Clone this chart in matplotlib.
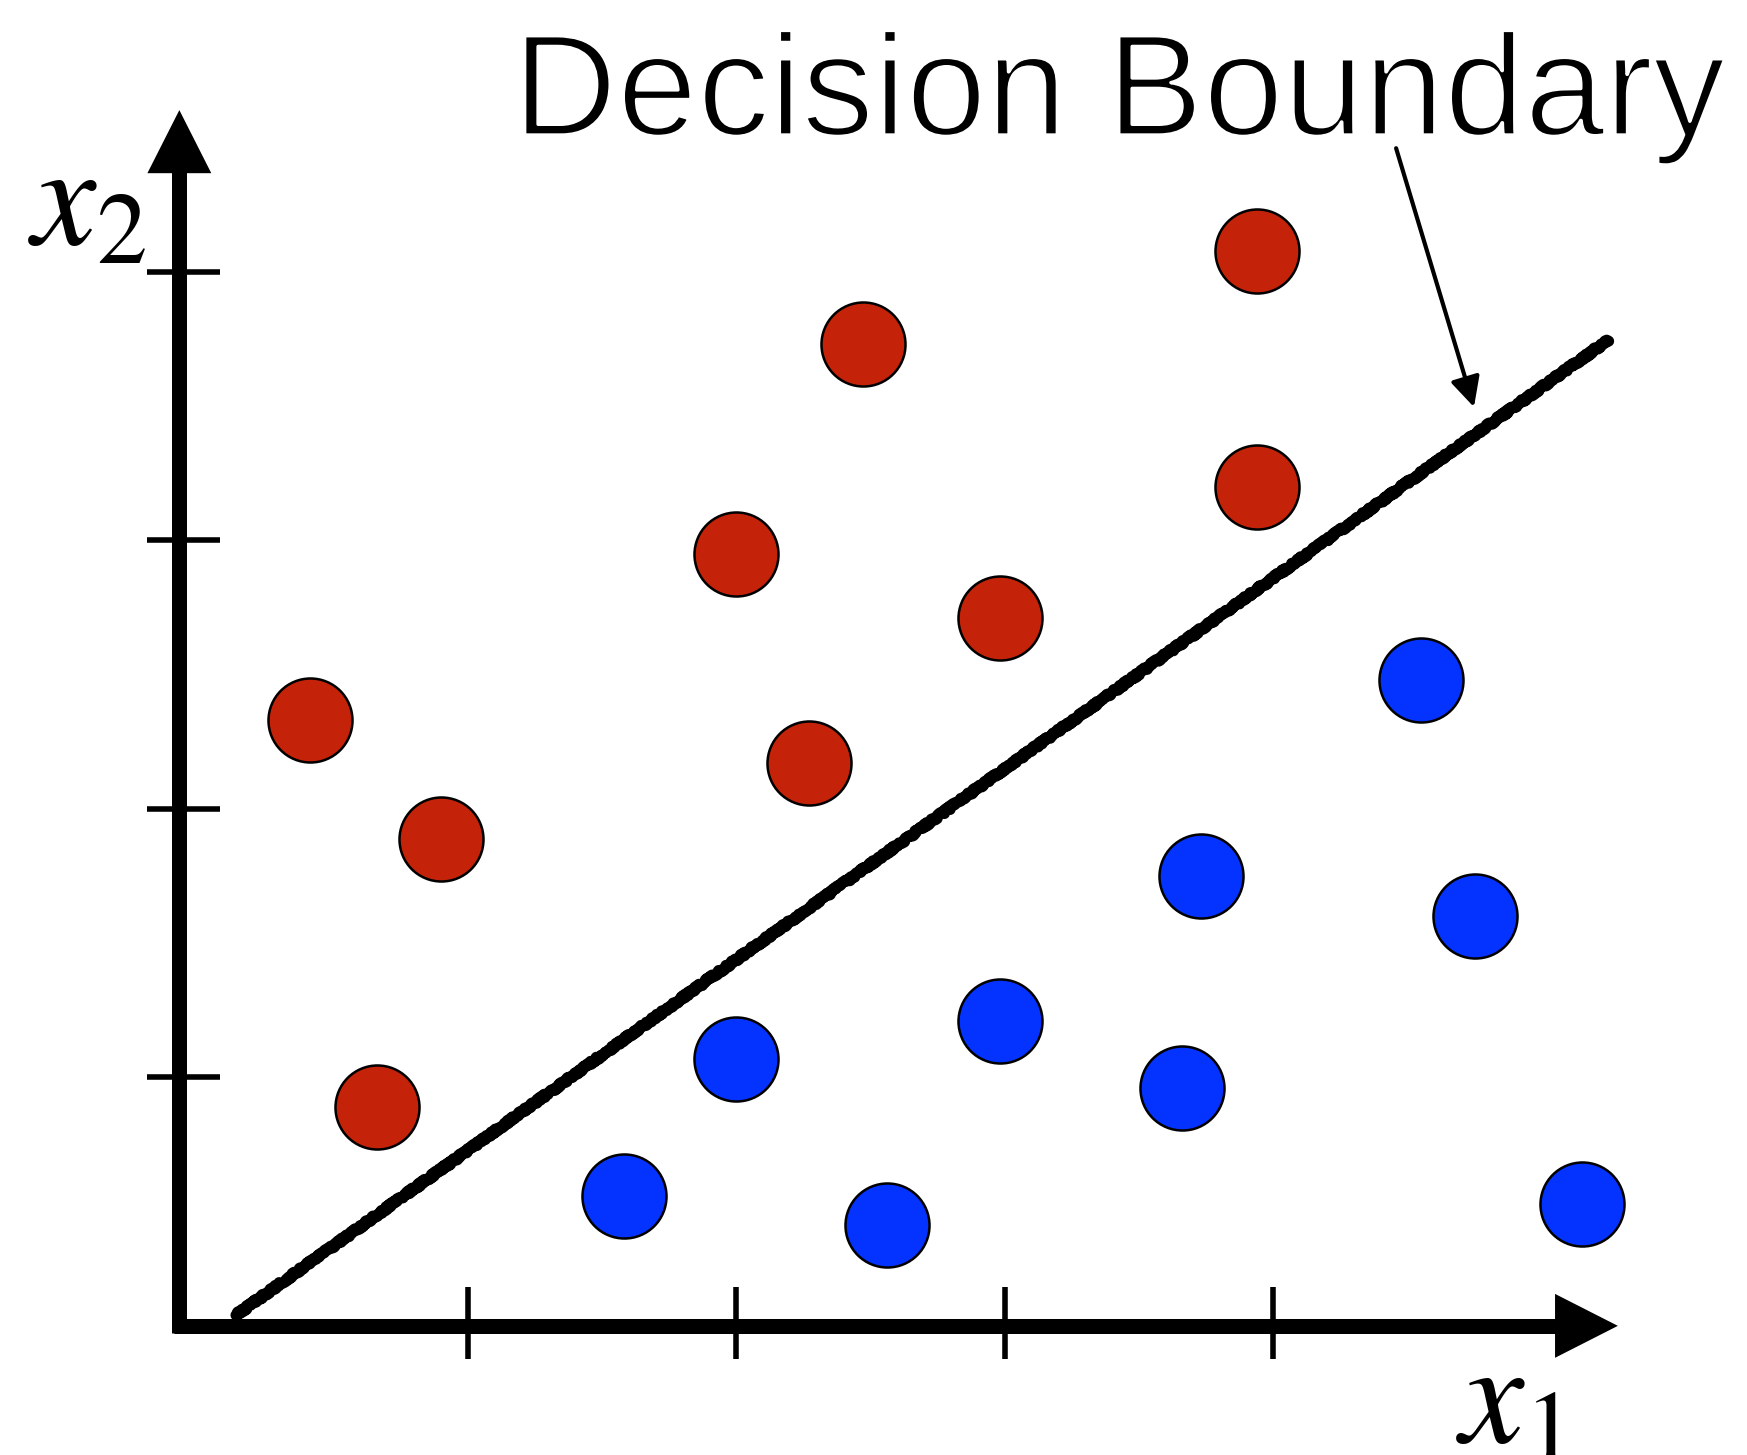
import numpy as np
import matplotlib
matplotlib.use("Agg")
import matplotlib.pyplot as plt
import matplotlib.patheffects as pe
from matplotlib.patches import Polygon

plt.rcParams['mathtext.fontset'] = 'stix'

# class 1 (red) points, tick units
red_x = [0.41, 0.90, 0.66, 2.00, 2.47, 2.27, 2.98, 3.94, 3.94]
red_y = [2.33, 1.89, 0.89, 2.95, 3.73, 2.17, 2.71, 4.08, 3.20]
# class 2 (blue) points
blue_x = [1.58, 2.00, 2.56, 2.98, 3.66, 3.73, 4.55, 4.75, 5.15]
blue_y = [0.56, 1.07, 0.45, 1.21, 0.96, 1.75, 2.48, 1.60, 0.53]

# decision boundary end points
line_x = [0.136, 5.246]
line_y = [0.115, 3.746]

tick_pos = [1, 2, 3, 4]

fig = plt.figure(figsize=(17.47, 14.55), dpi=100)
ax = fig.add_axes([0, 0, 1, 1])
ax.set_xlim(-0.743, 5.764)
ax.set_ylim(-0.406, 5.013)
ax.axis('off')

x0, y0 = -0.075, 0.075

# axes with arrow heads
ax.plot([x0, x0], [y0 - 0.028, 4.40], color='black', lw=10.8, solid_capstyle='butt')
ax.plot([x0 - 0.02, 5.07], [y0, y0], color='black', lw=10.8, solid_capstyle='butt')
ax.add_patch(Polygon([[x0 - 0.119, 4.368], [x0 + 0.119, 4.368], [x0, 4.603]],
                     closed=True, color='black', lw=0))
ax.add_patch(Polygon([[5.049, y0 - 0.119], [5.049, y0 + 0.119], [5.283, y0]],
                     closed=True, color='black', lw=0))

# ticks
for t in tick_pos:
    ax.plot([t, t], [-0.05, 0.22], color='black', lw=4, solid_capstyle='butt')
    ax.plot([-0.195, 0.077], [t, t], color='black', lw=4, solid_capstyle='butt')

# decision boundary, rough pencil look
for lw, sc, ln_len in [(8, 1.5, 4), (5, 2.5, 3), (3, 3.5, 2), (2.5, 4.0, 5)]:
    ln, = ax.plot(line_x, line_y, color='black', lw=lw, solid_capstyle='round')
    ln.set_sketch_params(scale=sc, length=ln_len, randomness=20)

# points
ax.scatter(red_x, red_y, s=3660, color='#C42309', edgecolors='black', linewidths=1.8, zorder=5)
ax.scatter(blue_x, blue_y, s=3660, color='#0433FF', edgecolors='black', linewidths=1.8, zorder=5)

# labels
ax.text(-0.20, 4.10, r'$x_2$', fontsize=104, ha='right', va='baseline')
ax.text(4.68, -0.36, r'$x_1$', fontsize=104, ha='left', va='baseline')

# thin the glyphs a little with a white outline (light face look)
ax.text(1.167, 4.51, 'Decision Boundary', fontsize=104, family='Liberation Sans',
        ha='left', va='baseline',
        path_effects=[pe.Stroke(linewidth=2.5, foreground='white')])
ax.annotate('', xy=(4.747, 3.497), xytext=(4.457, 4.461),
            arrowprops=dict(arrowstyle='-|>', color='black', lw=3,
                            mutation_scale=45, shrinkA=0, shrinkB=0))

fig.savefig('out.png', dpi=100)
